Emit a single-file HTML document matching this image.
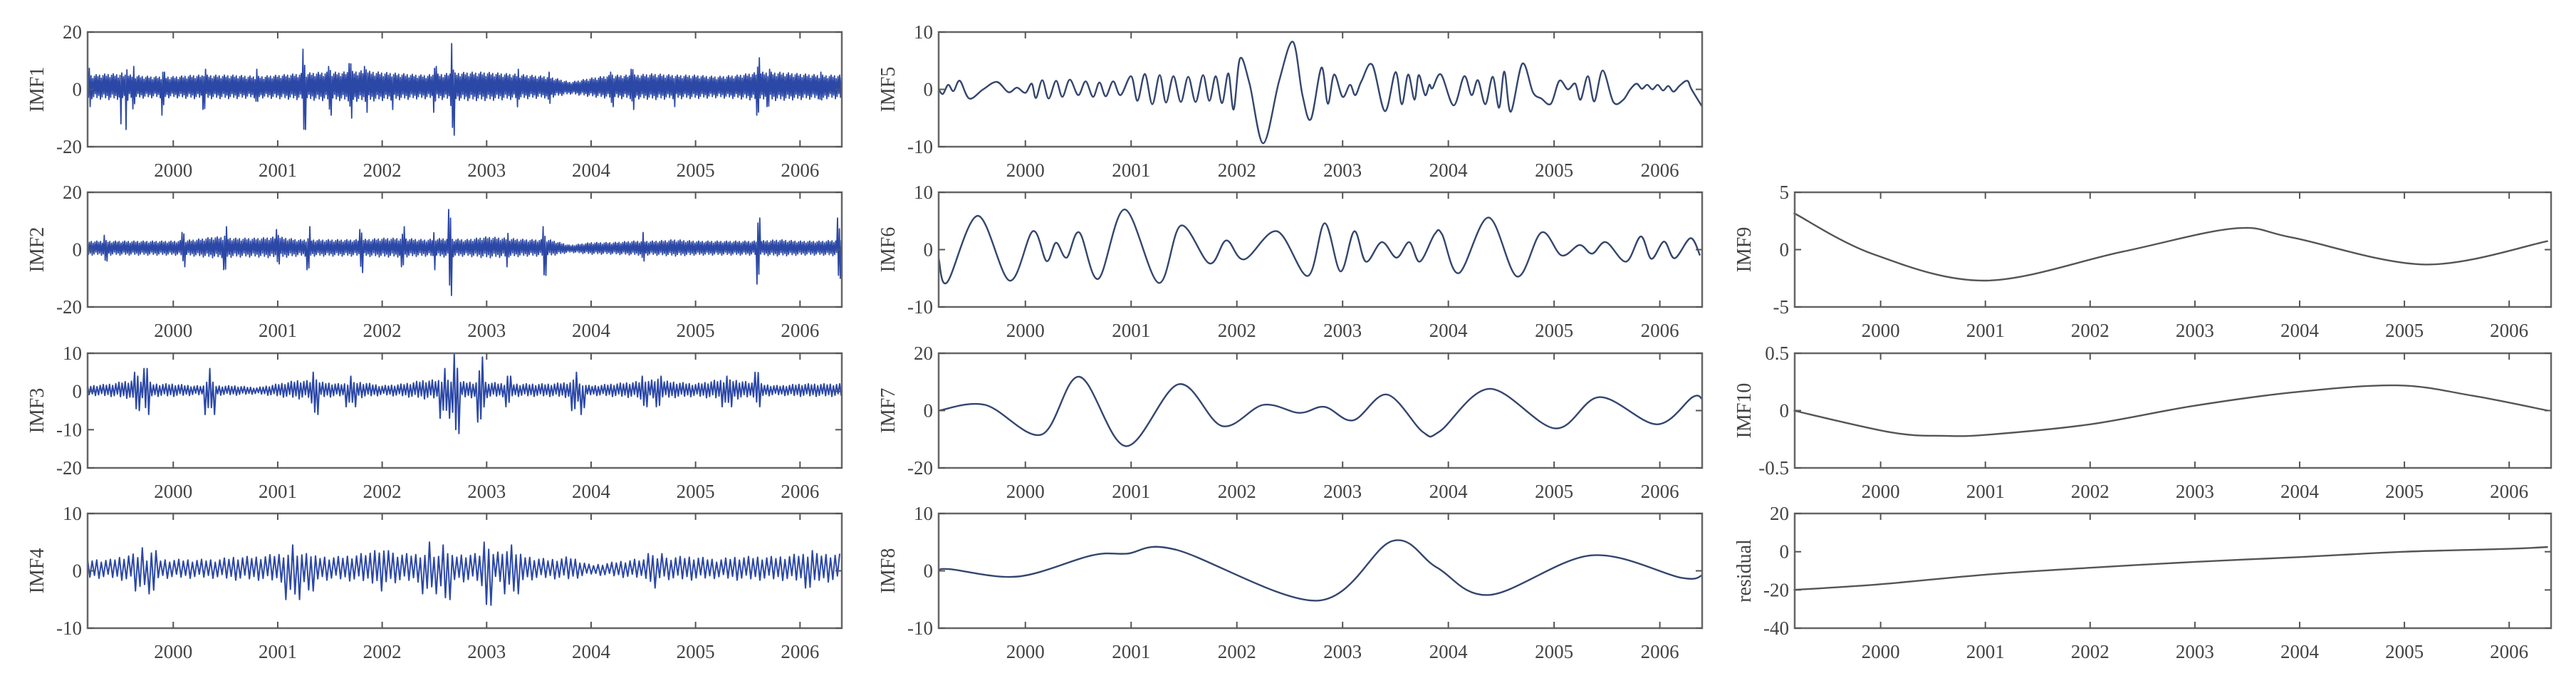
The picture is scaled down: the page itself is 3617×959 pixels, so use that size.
<!DOCTYPE html>
<html><head><meta charset="utf-8">
<style>
html,body{margin:0;padding:0;background:#fff;}
svg{display:block;}
text{font-family:"Liberation Serif",serif;fill:#444;}
</style></head>
<body>
<svg id="fig" width="3617" height="959" viewBox="0 0 3617 959" xmlns="http://www.w3.org/2000/svg"></svg>
<script>
// ---------- data ----------
const yearTicks = [2000,2001,2002,2003,2004,2005,2006];
const yearLabels = ["2000","2001","2002","2003","2004","2005","2006"];
const envT0 = 1999.2, envStep = 0.2;

const imf1Amp = [5,5.5,5,4.5,4.5,5,5,5,4.5,5,5.5,6,6,6.5,6,5.5,5,5.5,6,6,5.5,5,4.5,2.5,4,5,5,5.5,5,5,4.5,5,6,6,5.5,5,5];
const imf1SpikeT = [1999.2,1999.5,1999.55,1999.62,1999.9,2000.3,2000.8,2001.25,2001.5,2001.7,2001.85,2002.1,2002.5,2002.67,2003.3,2003.6,2004.2,2004.4,2004.8,2005.6,2005.7,2006.2];
const imf1SpikeHi = [9,9,10,8,6,7,7,14,8,9,8,6,8,16,7,6,6,7,6,11,7,6];
const imf1SpikeLo = [-6,-12,-14,-10,-9,-7,-7,-14,-9,-10,-8,-7,-8,-16,-8,-7,-6,-7,-6,-9,-6,-6];

const imf2Amp = [3,3,3,3,3,3.5,4.5,4,4,4.5,3.5,3.5,3.5,3.5,4,4,3.5,4,3.5,4.5,4,3.5,3.5,1.5,2.5,2.5,3,3,3.5,3,3,3,3,3.5,3,3,3.5];
const imf2SpikeT = [1999.35,2000.1,2000.5,2001.0,2001.3,2001.8,2002.2,2002.5,2002.65,2003.2,2003.55,2004.5,2005.6,2006.37];
const imf2SpikeHi = [5,6,8,7,8,7,8,8,14,7,8,6,11,11];
const imf2SpikeLo = [-4,-6,-7,-5,-7,-8,-6,-7,-16,-6,-9,-6,-12,-10];

const imf3Amp = [1.5,2,3,2,2,1.5,1.5,1.5,1,2,3,2.5,2,2.5,1.5,2,3,3,2.5,2.5,2,2,2,2.5,1.5,2,2.5,3,2.5,2,3,3,2,1.5,2,2,2];
const imf3SpikeT = [1999.65,1999.75,2000.35,2001.35,2001.7,2002.6,2002.7,2002.95,2003.2,2003.85,2003.92,2004.5,2004.65,2005.3,2005.6];
const imf3SpikeHi = [5,6,6,5,4,6,10,9,4,5,1,4,4,4,5];
const imf3SpikeLo = [-5,-6,-6,-6,-4,-7,-11,-8,-4,-5,-6,-4,-4,-4,-4];

const imf4Amp = [2,2,3,2,2,2,2,2.5,2.5,3,3,2.5,2.5,3,3.5,3,3,2.5,3,3,3.5,2.5,2,2.5,1,1.5,2,2,2.5,2.5,2,2.5,2.5,2.5,3,3,3];
const imf4SpikeT = [1999.7,1999.8,2001.15,2001.3,2002.0,2002.45,2002.6,2003.0,2003.25,2004.6,2006.1];
const imf4SpikeHi = [4,3.5,4.5,3,3.5,5,4.5,5,4.5,3,3.5];
const imf4SpikeLo = [-3.5,-4,-5,-3.5,-3.5,-4,-5,-6,-4,-3,-3];

const imf5T = [1999.18,1999.22,1999.27,1999.32,1999.38,1999.47,1999.6,1999.73,1999.84,1999.92,2000.0,2000.06,2000.1,2000.16,2000.22,2000.29,2000.35,2000.42,2000.5,2000.57,2000.64,2000.7,2000.76,2000.83,2000.9,2001.0,2001.06,2001.13,2001.2,2001.27,2001.33,2001.4,2001.47,2001.54,2001.61,2001.68,2001.74,2001.8,2001.86,2001.92,2001.97,2002.03,2002.12,2002.25,2002.4,2002.53,2002.62,2002.7,2002.8,2002.86,2002.92,2003.0,2003.07,2003.12,2003.18,2003.28,2003.4,2003.5,2003.56,2003.62,2003.68,2003.72,2003.78,2003.82,2003.85,2003.93,2004.05,2004.15,2004.22,2004.28,2004.35,2004.42,2004.48,2004.53,2004.59,2004.7,2004.8,2004.88,2004.97,2005.05,2005.13,2005.2,2005.25,2005.32,2005.38,2005.46,2005.56,2005.65,2005.72,2005.78,2005.83,2005.88,2005.93,2005.98,2006.03,2006.08,2006.13,2006.19,2006.26,2006.3,2006.4];
const imf5V = [0,-0.8,0.8,-0.3,1.5,-1.6,0,1.3,-0.5,0.3,-0.6,1,-1.5,1.6,-1.6,1.5,-1.3,1.7,-1.0,1.4,-1.3,1.2,-1.2,1.4,-1.0,2.3,-2.0,2.7,-2.6,2.5,-2.3,2.3,-2.2,2.2,-2.2,2.5,-2.0,2.3,-2.4,2.8,-3.5,5.4,1,-9.4,1.5,8.3,-1,-5.2,3.8,-2.5,2.6,-1.3,0.8,-1,1.5,4.3,-3.8,3,-2.6,2.6,-1.8,2.5,-1,0.8,0.2,2.6,-2.8,2.3,-1,1.6,-2.6,2.2,-3.2,3.1,-3.9,4.5,-0.5,-1.6,-2.5,1.5,0,1,-1.8,2.3,-2.1,3.3,-2.2,-1.9,0,1,0.1,0.8,0,0.8,-0.2,0.6,-0.4,0.7,1.5,0,-3];

const imf6T = [1999.18,1999.26,1999.55,1999.85,2000.07,2000.2,2000.29,2000.39,2000.51,2000.69,2000.94,2001.26,2001.47,2001.74,2001.9,2002.07,2002.38,2002.67,2002.83,2002.98,2003.11,2003.22,2003.37,2003.51,2003.63,2003.73,2003.87,2003.94,2004.1,2004.38,2004.65,2004.88,2005.07,2005.24,2005.36,2005.49,2005.68,2005.82,2005.92,2006.04,2006.14,2006.29,2006.38];
const imf6V = [-1.5,-5.7,5.9,-5.4,3.2,-2,1.2,-1.4,3,-5.1,7,-5.8,4.2,-2.4,1.6,-1.7,3.2,-4.6,4.6,-3.8,3.2,-2.1,1.3,-1.4,1.3,-2.1,2.7,2.7,-4.1,5.6,-4.7,3,-1,0.8,-0.7,1.3,-2.1,2.3,-1.6,1.4,-1.5,2,-1];

const imf7T = [1999.18,1999.62,2000.15,2000.51,2000.95,2001.45,2001.86,2002.25,2002.59,2002.83,2003.1,2003.42,2003.76,2003.92,2004.39,2005.01,2005.43,2005.97,2006.31,2006.4];
const imf7V = [0,2,-8.4,11.8,-12.4,9.2,-5.4,2,-0.8,1.3,-3.4,5.6,-7.5,-7.2,7.6,-6.2,4.7,-4.8,4.7,4];

const imf8T = [1999.18,1999.28,1999.93,2000.63,2000.96,2001.42,2002.76,2003.47,2003.89,2004.39,2005.35,2006.2,2006.4];
const imf8V = [0,0.3,-1,2.7,3,3.7,-5.2,5.2,0.6,-4.2,2.7,-1.2,-0.8];

const imf9T = [1999.17,1999.93,2001.0,2002.3,2003.38,2003.93,2005.2,2006.37];
const imf9V = [3.2,-0.4,-2.7,-0.2,1.85,1.05,-1.3,0.75];

const imf10T = [1999.17,2000.1,2000.6,2001.03,2002.0,2002.98,2003.95,2004.93,2005.65,2006.37];
const imf10V = [0,-0.19,-0.22,-0.21,-0.12,0.04,0.16,0.22,0.13,0];

const resT = [1999.17,2000,2001,2002,2003,2004,2005,2006,2006.37];
const resV = [-20,-17,-12,-8.4,-5.3,-2.8,0,1.5,2.5];

// ---------- layout ----------
const X0 = 1999.18, X1 = 2006.4;
const cols = [[123,1182],[1318,2390],[2520,3582]];
const rowTop = [45,270,496,721];
const PH = 161;
const NS = "http://www.w3.org/2000/svg";
const svg = document.getElementById('fig');

function mk(tag, attrs, parent){
  const e = document.createElementNS(NS, tag);
  for (const k in attrs) e.setAttribute(k, attrs[k]);
  (parent||svg).appendChild(e);
  return e;
}
function interpArr(arr, t){
  const f = (t - envT0)/envStep;
  const i = Math.max(0, Math.min(arr.length-2, Math.floor(f)));
  const r = Math.max(0, Math.min(1, f - i));
  return arr[i]*(1-r) + arr[i+1]*r;
}
function smoothPath(pts){
  let d = "M"+pts[0][0].toFixed(1)+","+pts[0][1].toFixed(1);
  for (let i=0;i<pts.length-1;i++){
    const p0 = pts[Math.max(0,i-1)], p1 = pts[i], p2 = pts[i+1], p3 = pts[Math.min(pts.length-1,i+2)];
    const c1x = p1[0]+(p2[0]-p0[0])/6, c1y = p1[1]+(p2[1]-p0[1])/6;
    const c2x = p2[0]-(p3[0]-p1[0])/6, c2y = p2[1]-(p3[1]-p1[1])/6;
    d += " C"+c1x.toFixed(1)+","+c1y.toFixed(1)+" "+c2x.toFixed(1)+","+c2y.toFixed(1)+" "+p2[0].toFixed(1)+","+p2[1].toFixed(1);
  }
  return d;
}

const panels = [
  {id:"imf1", label:"IMF1", c:0, r:0, ymin:-20, ymax:20, ticks:[-20,0,20], type:"env", amp:imf1Amp, sT:imf1SpikeT, sH:imf1SpikeHi, sL:imf1SpikeLo, step:1.2, sw:0.02, lw:1.8},
  {id:"imf2", label:"IMF2", c:0, r:1, ymin:-20, ymax:20, ticks:[-20,0,20], type:"env", amp:imf2Amp, sT:imf2SpikeT, sH:imf2SpikeHi, sL:imf2SpikeLo, step:1.3, sw:0.02, lw:1.8},
  {id:"imf3", label:"IMF3", c:0, r:2, ymin:-20, ymax:10, ticks:[-20,-10,0,10], type:"env", amp:imf3Amp, sT:imf3SpikeT, sH:imf3SpikeHi, sL:imf3SpikeLo, step:2.2, sw:0.05, lw:2},
  {id:"imf4", label:"IMF4", c:0, r:3, ymin:-10, ymax:10, ticks:[-10,0,10], type:"env", amp:imf4Amp, sT:imf4SpikeT, sH:imf4SpikeHi, sL:imf4SpikeLo, step:3.2, sw:0.08, lw:2},
  {id:"imf5", label:"IMF5", c:1, r:0, ymin:-10, ymax:10, ticks:[-10,0,10], type:"line", T:imf5T, V:imf5V, color:"#34466e"},
  {id:"imf6", label:"IMF6", c:1, r:1, ymin:-10, ymax:10, ticks:[-10,0,10], type:"line", T:imf6T, V:imf6V, color:"#34466e"},
  {id:"imf7", label:"IMF7", c:1, r:2, ymin:-20, ymax:20, ticks:[-20,0,20], type:"line", T:imf7T, V:imf7V, color:"#34466e"},
  {id:"imf8", label:"IMF8", c:1, r:3, ymin:-10, ymax:10, ticks:[-10,0,10], type:"line", T:imf8T, V:imf8V, color:"#34466e"},
  {id:"imf9", label:"IMF9", c:2, r:1, ymin:-5, ymax:5, ticks:[-5,0,5], type:"line", T:imf9T, V:imf9V, color:"#555"},
  {id:"imf10", label:"IMF10", c:2, r:2, ymin:-0.5, ymax:0.5, ticks:[-0.5,0,0.5], type:"line", T:imf10T, V:imf10V, color:"#555"},
  {id:"residual", label:"residual", c:2, r:3, ymin:-40, ymax:20, ticks:[-40,-20,0,20], type:"line", T:resT, V:resV, color:"#555"}
];
const pattern = [1,0.55,0.85,0.4,0.95,0.65,0.75,0.5,0.9,0.3];

panels.forEach(p=>{
  const L = cols[p.c][0], R = cols[p.c][1], T = rowTop[p.r], B = T+PH;
  const xs = t => L + (t - X0)/(X1 - X0)*(R - L);
  const ys = v => B - (v - p.ymin)/(p.ymax - p.ymin)*PH;
  const g = mk('g', {});
  
  

  if (p.type === "env"){
    let d = "";
    let k = 0;
    for (let x=L; x<=R; x+=p.step, k++){
      const t = X0 + (x-L)/(R-L)*(X1-X0);
      const m = pattern[k % pattern.length];
      const a = interpArr(p.amp, t) * m;
      let up = a, dn = -a;
      for (let i=0;i<p.sT.length;i++){
        const w = 1 - Math.abs(t - p.sT[i])/p.sw;
        if (w > 0){
          const ww = (k % 3 === 0) ? 1 : w;
          up = Math.max(up, p.sH[i]*ww); dn = Math.min(dn, p.sL[i]*ww);
        }
      }
      const v = (k % 2 === 0) ? up : dn;
      d += (d ? " L" : "M") + x.toFixed(1) + "," + ys(v).toFixed(1);
    }
    const path = mk('path', {d:d, fill:"none", stroke:"#2c48a6", "stroke-width":p.lw, "stroke-linejoin":"round"}, g);
    
    
  } else {
    const pts = p.T.map((t,i)=>[xs(t), ys(p.V[i])]);
    const path = mk('path', {d:smoothPath(pts), fill:"none", stroke:p.color, "stroke-width":2.4}, g);
    
    
  }

  const box = mk('rect', {x:L, y:T, width:R-L, height:PH, fill:"none", stroke:"#666", "stroke-width":2.5}, g);
  
  

  yearTicks.forEach((yr,i)=>{
    const x = xs(yr);
    mk('line', {x1:x, y1:T, x2:x, y2:T+9, stroke:"#555", "stroke-width":2}, g);
    mk('line', {x1:x, y1:B, x2:x, y2:B-9, stroke:"#555", "stroke-width":2}, g);
    const tx = mk('text', {x:x, y:B+42, "font-size":27, "text-anchor":"middle"}, g);
    tx.textContent = yearLabels[i];
    
    
  });
  p.ticks.forEach(v=>{
    const y = ys(v);
    mk('line', {x1:L, y1:y, x2:L+9, y2:y, stroke:"#555", "stroke-width":2}, g);
    mk('line', {x1:R, y1:y, x2:R-9, y2:y, stroke:"#555", "stroke-width":2}, g);
    const tx = mk('text', {x:L-8, y:y+9, "font-size":27, "text-anchor":"end"}, g);
    tx.textContent = String(v);
    
    
  });
  const lx = L - 62, ly = T + PH/2;
  const yl = mk('text', {x:lx, y:ly, "font-size":28, "text-anchor":"middle", transform:"rotate(-90 "+lx+" "+ly+")"}, g);
  yl.textContent = p.label;
  
  
});
</script>
</body></html>
